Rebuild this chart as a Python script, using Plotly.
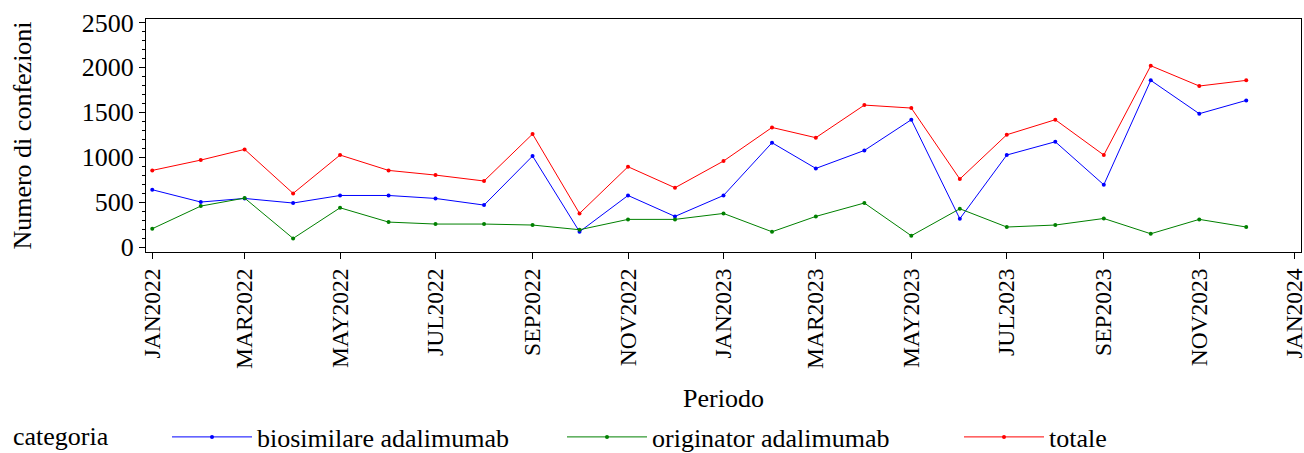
import plotly.graph_objects as go

months = ["2022-01-01","2022-02-01","2022-03-01","2022-04-01","2022-05-01","2022-06-01",
          "2022-07-01","2022-08-01","2022-09-01","2022-10-01","2022-11-01","2022-12-01",
          "2023-01-01","2023-02-01","2023-03-01","2023-04-01","2023-05-01","2023-06-01",
          "2023-07-01","2023-08-01","2023-09-01","2023-10-01","2023-11-01","2023-12-01"]

biosimilare = [638, 501, 541, 490, 574, 574, 541, 467, 1013, 170, 574, 341,
               574, 1161, 875, 1075, 1417, 315, 1024, 1172, 693, 1855, 1484, 1632]
originator = [204, 456, 545, 96, 437, 278, 256, 256, 245, 193, 308, 308,
              374, 170, 341, 490, 126, 426, 223, 245, 318, 148, 308, 223]
totale = [853, 968, 1087, 597, 1024, 853, 801, 735, 1258, 374, 894, 660,
          957, 1331, 1217, 1580, 1547, 757, 1250, 1417, 1024, 2018, 1792, 1855]

tick_dates = ["2022-01-01","2022-03-01","2022-05-01","2022-07-01","2022-09-01","2022-11-01",
              "2023-01-01","2023-03-01","2023-05-01","2023-07-01","2023-09-01","2023-11-01",
              "2024-01-01"]
tick_labels = ["JAN2022","MAR2022","MAY2022","JUL2022","SEP2022","NOV2022",
               "JAN2023","MAR2023","MAY2023","JUL2023","SEP2023","NOV2023","JAN2024"]

series = [("biosimilare adalimumab", biosimilare, "#0000FF", "legend"),
          ("originator adalimumab", originator, "#008000", "legend2"),
          ("totale", totale, "#FF0000", "legend3")]

FONT = "Liberation Serif, Times New Roman, serif"
FS = 26
W, H = 1304, 453
L, R, T, B = 146, 3, 19, 201

fig = go.Figure()
for name, vals, col, lg in series:
    fig.add_trace(go.Scatter(x=months, y=vals, name=name, mode="lines+markers",
                             line=dict(color=col, width=1),
                             marker=dict(color=col, size=4), legend=lg))

def leg(xpx):
    return dict(orientation="h", xref="container", yref="container",
                x=xpx / W, y=16 / H, xanchor="left", yanchor="middle",
                font=dict(size=FS, family=FONT), itemwidth=80,
                bgcolor="rgba(0,0,0,0)", borderwidth=0)

fig.update_layout(
    width=W, height=H,
    margin=dict(l=L, r=R, t=T, b=B, autoexpand=False),
    paper_bgcolor="white", plot_bgcolor="white",
    font=dict(family=FONT, size=FS, color="black"),
    showlegend=True,
    legend=leg(167),
    legend2=leg(562),
    legend3=leg(959),
    annotations=[dict(text="categoria", xref="paper", yref="paper",
                      x=(11 - L) / (W - L - R), y=-(437 - (H - B)) / (H - T - B),
                      xanchor="left", yanchor="middle", showarrow=False,
                      font=dict(size=FS, family=FONT))],
)
fig.update_xaxes(
    type="date", range=["2021-12-28", "2024-01-05"],
    tickvals=tick_dates, ticktext=tick_labels, tickangle=-90,
    ticks="outside", ticklen=6, tickcolor="black",
    showline=True, linecolor="black", linewidth=1, mirror=True,
    showgrid=False, zeroline=False, automargin=False,
    ticklabeloverflow="allow",
    tickfont=dict(size=23.5),
    title=dict(text="Periodo", font=dict(size=FS), standoff=22),
)
fig.update_yaxes(
    range=[-55, 2538], tickvals=[0, 500, 1000, 1500, 2000, 2500],
    ticks="outside", ticklen=6, tickcolor="black",
    minor=dict(dtick=100, tick0=0, ticks="outside", ticklen=3, tickcolor="black", showgrid=False),
    showline=True, linecolor="black", linewidth=1, mirror=True,
    showgrid=False, zeroline=False, automargin=False,
    tickfont=dict(size=FS),
    title=dict(text="Numero di confezioni", font=dict(size=FS), standoff=42),
)

fig.write_html("out.html", config={"displayModeBar": False},
               post_script="document.body.style.margin='0';document.body.style.overflow='hidden';")
